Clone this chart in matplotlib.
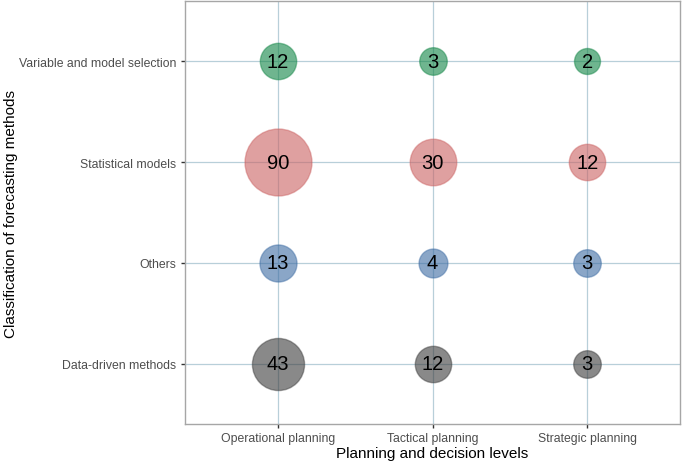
import numpy as np
import matplotlib
matplotlib.use('Agg')
import matplotlib.pyplot as plt
from matplotlib.colors import to_rgba

plt.rcParams['font.family'] = ['Liberation Sans', 'DejaVu Sans']

levels = ['Operational planning', 'Tactical planning', 'Strategic planning']
methods = ['Data-driven methods', 'Others', 'Statistical models', 'Variable and model selection']
colors = ['#3a3a3a', '#3c6ba3', '#cb6161', '#108544']

counts_data_driven = [43, 12, 3]
counts_others = [13, 4, 3]
counts_statistical = [90, 30, 12]
counts_variable = [12, 3, 2]
counts = [counts_data_driven, counts_others, counts_statistical, counts_variable]

fig = plt.figure(figsize=(6.83, 4.64), dpi=100)
ax = fig.add_axes([0.271, 0.084, 0.7246, 0.9117])

allv = np.sqrt(np.array(counts, dtype=float))
vmin, vmax = allv.min(), allv.max()
dmin, dmax = 26, 67  # diameter in pixels
px2pt = 72 / fig.dpi

for j, (row, col) in enumerate(zip(counts, colors)):
    for i, v in enumerate(row):
        d = dmin + (dmax - dmin) * (np.sqrt(v) - vmin) / (vmax - vmin)
        s = (d * px2pt) ** 2
        ax.scatter(i + 1, j + 1, s=s, facecolor=to_rgba(col, 0.6),
                   edgecolor=to_rgba(col, 0.45), linewidth=1.0, zorder=3)
        ax.text(i + 1, j + 1, str(v), ha='center', va='center',
                fontsize=14.5, color='black', zorder=4)

ax.set_xlim(0.4, 3.6)
ax.set_ylim(0.4, 4.6)
ax.set_xticks([1, 2, 3])
ax.set_xticklabels(levels)
ax.set_yticks([1, 2, 3, 4])
ax.set_yticklabels(methods)
ax.grid(True, color='#b8cfd9', linewidth=0.9, zorder=0)
ax.set_axisbelow(True)
for sp in ax.spines.values():
    sp.set_color('#a6a6a6')
    sp.set_linewidth(1.0)
ax.tick_params(axis='both', length=3, width=1, color='#333333',
               labelcolor='#4d4d4d', labelsize=8.8)
ax.tick_params(axis='x', pad=3)
ax.set_xlabel('Planning and decision levels', fontsize=11, labelpad=1)
ax.set_ylabel('Classification of forecasting methods', fontsize=11)
ax.yaxis.set_label_coords(-0.337, 0.5)

plt.savefig('out.png', dpi=100)
